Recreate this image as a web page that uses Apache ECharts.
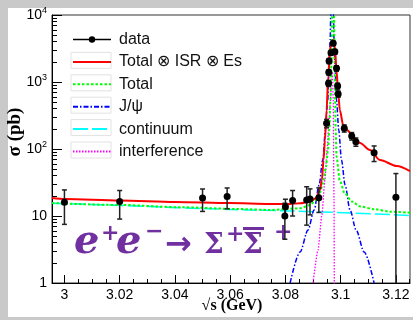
<!DOCTYPE html>
<html>
<head>
<meta charset="utf-8">
<script src="https://cdn.jsdelivr.net/npm/echarts@6/dist/echarts.min.js"></script>
<style>
  html, body { margin: 0; padding: 0; background: #c9c9c9; }
  #chart { width: 413px; height: 320px; }
</style>
</head>
<body>
<div id="chart"></div>
<script>
// Measured cross section of e+e- -> Sigma+ anti-Sigma- around the J/psi (pb)
const energy  = [3.0, 3.02, 3.05, 3.0589, 3.0798, 3.08, 3.0826, 3.0877, 3.0889, 3.0921,
                 3.0949, 3.0956, 3.0957, 3.0958, 3.0965, 3.0973, 3.0979, 3.0985, 3.0989, 3.0991,
                 3.1013, 3.1040, 3.1055, 3.1121, 3.12];
const xsec    = [16, 16.5, 18.5, 19.5, 10, 13.8, 17, 17.3, 17.9, 18.8,
                 242, 957, 1396, 2058, 2735, 3785, 2833, 1601, 872, 662,
                 204, 156, 128, 88, 19];
const xsecErr = [8.5, 7.5, 6.8, 6.7, 5.5, 4, 7, 10, 7.5, 7.5,
                 35, 100, 130, 180, 220, 280, 230, 150, 90, 70,
                 25, 20, 18, 23, 24];

// Fit: Total convolved with ISR and energy spread
const convE = [2.9955, 3.0002, 3.0201, 3.0400, 3.0599, 3.0744, 3.0816, 3.0853, 3.0889, 3.0910,
               3.0925, 3.0932, 3.0938, 3.0943, 3.0949, 3.0955, 3.0961, 3.0967, 3.0971, 3.0976,
               3.0979, 3.0985, 3.0991, 3.0997, 3.1009, 3.1023, 3.1045, 3.1070, 3.1106, 3.1142,
               3.1203, 3.1251];
const convXsec = [18.6, 17.9, 17.0, 16.2, 15.6, 15.1, 15.1, 15.5, 16.4, 18.4,
                  24.4, 34.5, 68.5, 136, 382, 1200, 3000, 3950, 4240, 3950,
                  3370, 1510, 678, 382, 228, 192, 153, 123, 96.6, 68.5,
                  55.8, 46.9];

// Fit: Total (Born level)
const totalE = [2.9955, 3.0201, 3.0418, 3.0635, 3.0744, 3.0853, 3.0889, 3.0910, 3.0925, 3.0936,
                3.0947, 3.0954, 3.0959, 3.0963, 3.0967, 3.0969, 3.0971, 3.0976, 3.0978, 3.0980,
                3.0982, 3.0985, 3.0997, 3.1015, 3.1041, 3.1070, 3.1124, 3.1178, 3.1251];
const totalXsec = [15.6, 14.6, 13.5, 12.7, 12.3, 13.0, 14.6, 17.3, 22.3, 31.1,
                   54.4, 96.6, 192, 539, 2130, 9670, 40000, 9670, 2130, 539,
                   192, 76.8, 33.3, 21.8, 16.4, 13.9, 12.6, 11.6, 11.2];

// Fit: J/psi resonance component
const jpsiE = [3.0817, 3.0853, 3.0882, 3.0904, 3.0922, 3.0935, 3.0945, 3.0953, 3.0958, 3.0962,
               3.0964, 3.0969, 3.0974, 3.0976, 3.0980, 3.0985, 3.0993, 3.1003, 3.1016, 3.1034,
               3.1056, 3.1085, 3.1121];
const jpsiXsec = [1.0, 2.9, 6.2, 12.3, 29, 68.5, 192, 539, 1510, 4240,
                  9670, 30000, 9670, 4240, 1510, 539, 192, 68.5, 29, 12.3,
                  6.2, 2.9, 1.0];

// Fit: continuum component
const contE = [2.9955, 3.0201, 3.0418, 3.0635, 3.0816, 3.1034, 3.1251];
const contXsec = [15.5, 14.4, 13.3, 12.4, 11.9, 11.1, 10.2];

// Fit: interference term
const interfE = [3.0900, 3.0918, 3.0932, 3.0943, 3.0951, 3.0958, 3.0963, 3.0967, 3.0970, 3.0973,
                 3.0976, 3.0977, 3.0978];
const interfXsec = [1.0, 3.1, 10.4, 34.5, 96.6, 271, 539, 1070, 1410, 539,
                    17.3, 1.0, 0.3];

// Axis ticks
const xTicks = [3, 3.02, 3.04, 3.06, 3.08, 3.1, 3.12];
const yTicks = [1, 10, 100, 1000, 10000];
const xMinorTicks = Array.from({ length: 26 }, (_, i) => +(3 + i * 0.005).toFixed(3));
const yMinorTicks = [];
[1, 10, 100, 1000].forEach(d => { for (let k = 2; k <= 9; k++) yMinorTicks.push(k * d); });

const pairs = (xs, ys) => xs.map((x, i) => [x, ys[i]]);

const chart = echarts.init(document.getElementById('chart'));

const X_MIN = 2.9955, X_MAX = 3.1251;
const axisFont = { fontFamily: 'Liberation Sans', fontSize: 14, color: '#000' };
const purple = '#7030a0';

// faint frames behind the legend keys of the fit curves
const keyFrames = [1, 2, 3, 4, 5].map(i => ({
  type: 'rect', z: -5, shape: { x: 71, y: 30 + 22.4 * i, width: 40, height: 16 },
  style: { fill: 'none', stroke: '#e2e2e2', lineWidth: 1 }
}));

const option = {
  animation: false,
  backgroundColor: '#c9c9c9',
  grid: { left: 52, right: 3, top: 15, bottom: 37, show: true, borderColor: '#333', borderWidth: 1, backgroundColor: 'transparent' },
  legend: {
    orient: 'vertical', left: 72, top: 31.5, padding: 0,
    itemWidth: 38, itemHeight: 8, itemGap: 6.4,
    selectedMode: false,
    textStyle: { fontFamily: 'Liberation Sans', fontSize: 16, color: '#111', lineHeight: 16, padding: [0, 0, 0, 3] },
    itemStyle: { opacity: 0 },
    data: [
      { name: 'data', itemStyle: { opacity: 1, color: '#000' }, lineStyle: { opacity: 1, color: '#000', width: 1.5 } },
      'Total ⊗ ISR ⊗ Es', 'Total', 'J/ψ', 'continuum', 'interference'
    ]
  },
  xAxis: [
    {
      type: 'value', min: X_MIN, max: X_MAX, position: 'bottom',
      axisLine: { show: true, onZero: false, lineStyle: { color: '#000', width: 1 } },
      axisTick: { show: true, inside: true, length: 8, customValues: xTicks, lineStyle: { color: '#000', width: 1 } },
      axisLabel: { customValues: xTicks, margin: 5, ...axisFont, formatter: v => String(+v.toFixed(2)) },
      splitLine: { show: false }
    },
    {
      type: 'value', min: X_MIN, max: X_MAX, position: 'bottom',
      axisLine: { show: false },
      axisTick: { show: true, inside: true, length: 4, customValues: xMinorTicks, lineStyle: { color: '#000', width: 1 } },
      axisLabel: { show: false }, splitLine: { show: false }
    }
  ],
  yAxis: [
    {
      type: 'log', logBase: 10, min: 1, max: 10000, position: 'left',
      axisLine: { show: true, onZero: false, lineStyle: { color: '#000', width: 1 } },
      axisTick: { show: true, inside: true, length: 10, customValues: yTicks, lineStyle: { color: '#000', width: 1 } },
      axisLabel: {
        customValues: yTicks, margin: 5, ...axisFont,
        formatter: v => { const e = Math.round(Math.log10(v)); return e === 0 ? '1' : e === 1 ? '10' : '10{s|' + e + '}'; },
        rich: { s: { fontFamily: 'Liberation Sans', fontSize: 9, color: '#000', verticalAlign: 'top', padding: [0, 0, 8, 0] } }
      },
      splitLine: { show: false }
    },
    {
      type: 'log', logBase: 10, min: 1, max: 10000, position: 'left',
      axisLine: { show: false },
      axisTick: { show: true, inside: true, length: 5, customValues: yMinorTicks, lineStyle: { color: '#000', width: 1 } },
      axisLabel: { show: false }, splitLine: { show: false }
    }
  ],
  graphic: [
    { type: 'rect', z: -10, shape: { x: 8, y: 8, width: 405, height: 309 }, style: { fill: '#fff' } },
    ...keyFrames,
    // axis titles
    { type: 'text', z: 5, x: 15, y: 132, rotation: Math.PI / 2, style: { text: 'σ (pb)', fontFamily: 'Liberation Serif', fontWeight: 'bold', fontSize: 19, fill: '#000', align: 'center', verticalAlign: 'middle' } },
    { type: 'text', z: 5, x: 232, y: 306, style: { text: '√s (GeV)', fontFamily: 'Liberation Serif', fontWeight: 'bold', fontSize: 16, fill: '#000', align: 'center', verticalAlign: 'middle' } },
    // reaction label
    { type: 'text', z: 1, x: 74, y: 243, style: { text: 'e', fontFamily: 'DejaVu Serif', fontStyle: 'italic', fontWeight: 'bold', fontSize: 40, fill: purple, verticalAlign: 'middle' } },
    { type: 'text', z: 1, x: 101, y: 234, style: { text: '+', fontFamily: 'DejaVu Serif', fontWeight: 'bold', fontSize: 22, fill: purple, verticalAlign: 'middle' } },
    { type: 'text', z: 1, x: 116, y: 243, style: { text: 'e', fontFamily: 'DejaVu Serif', fontStyle: 'italic', fontWeight: 'bold', fontSize: 40, fill: purple, verticalAlign: 'middle' } },
    { type: 'text', z: 1, x: 145, y: 232, style: { text: '−', fontFamily: 'DejaVu Serif', fontWeight: 'bold', fontSize: 22, fill: purple, verticalAlign: 'middle' } },
    { type: 'text', z: 1, x: 165, y: 246, style: { text: '→', fontFamily: 'DejaVu Sans', fontWeight: 'bold', fontSize: 32, fill: purple, verticalAlign: 'middle' } },
    { type: 'text', z: 1, x: 204, y: 246, style: { text: 'Σ', fontFamily: 'DejaVu Serif', fontWeight: 'bold', fontSize: 28, fill: purple, verticalAlign: 'middle' } },
    { type: 'text', z: 1, x: 226, y: 235, style: { text: '+', fontFamily: 'DejaVu Serif', fontWeight: 'bold', fontSize: 22, fill: purple, verticalAlign: 'middle' } },
    { type: 'text', z: 1, x: 243, y: 246, style: { text: 'Σ', fontFamily: 'DejaVu Serif', fontWeight: 'bold', fontSize: 28, fill: purple, verticalAlign: 'middle' } },
    { type: 'rect', z: 1, shape: { x: 243, y: 227, width: 21, height: 3 }, style: { fill: purple } },
    { type: 'text', z: 1, x: 274, y: 233, style: { text: '+', fontFamily: 'DejaVu Serif', fontWeight: 'bold', fontSize: 22, fill: purple, verticalAlign: 'middle' } }
  ],
  series: [
    { name: 'continuum', type: 'line', data: pairs(contE, contXsec), symbol: 'none', smooth: 0.3, z: 3,
      lineStyle: { color: '#00ffff', width: 1.5, type: [15, 4] } },
    { name: 'interference', type: 'line', data: pairs(interfE, interfXsec), symbol: 'none', smooth: 0.2, smoothMonotone: 'x', z: 3,
      lineStyle: { color: '#ff00ff', width: 1.3, type: [1.5, 1.5] } },
    { name: 'J/ψ', type: 'line', data: pairs(jpsiE, jpsiXsec), symbol: 'none', smooth: 0.3, smoothMonotone: 'x', z: 3,
      lineStyle: { color: '#0000ff', width: 1.5, type: [5, 2, 1.5, 2] } },
    { name: 'Total', type: 'line', data: pairs(totalE, totalXsec), symbol: 'none', smooth: 0.3, smoothMonotone: 'x', z: 3,
      lineStyle: { color: '#00ff00', width: 2, type: [2.5, 2] } },
    { name: 'Total ⊗ ISR ⊗ Es', type: 'line', data: pairs(convE, convXsec), symbol: 'none', smooth: 0.3, smoothMonotone: 'x', z: 4,
      lineStyle: { color: '#ff0000', width: 2 } },
    { name: 'dataErr', type: 'custom', z: 5, clip: true,
      data: energy.map((e, i) => [e, xsec[i], xsecErr[i]]),
      renderItem: (params, api) => {
        const x = api.value(0), y = api.value(1), err = api.value(2);
        const low = y - err;
        const top = api.coord([x, y + err]);
        const bot = api.coord([x, low > 0 ? low : 0.01]);
        const st = { stroke: '#222', lineWidth: 1.5 };
        const children = [
          { type: 'line', shape: { x1: top[0], y1: top[1], x2: bot[0], y2: bot[1] }, style: st },
          { type: 'line', shape: { x1: top[0] - 2.5, y1: top[1], x2: top[0] + 2.5, y2: top[1] }, style: st }
        ];
        if (low > 0) children.push({ type: 'line', shape: { x1: bot[0] - 2.5, y1: bot[1], x2: bot[0] + 2.5, y2: bot[1] }, style: st });
        return { type: 'group', children };
      }
    },
    { name: 'data', type: 'line', data: pairs(energy, xsec), symbol: 'circle', symbolSize: 7, z: 6,
      itemStyle: { color: '#000' }, lineStyle: { opacity: 0 } }
  ]
};
chart.setOption(option);
</script>
</body>
</html>
